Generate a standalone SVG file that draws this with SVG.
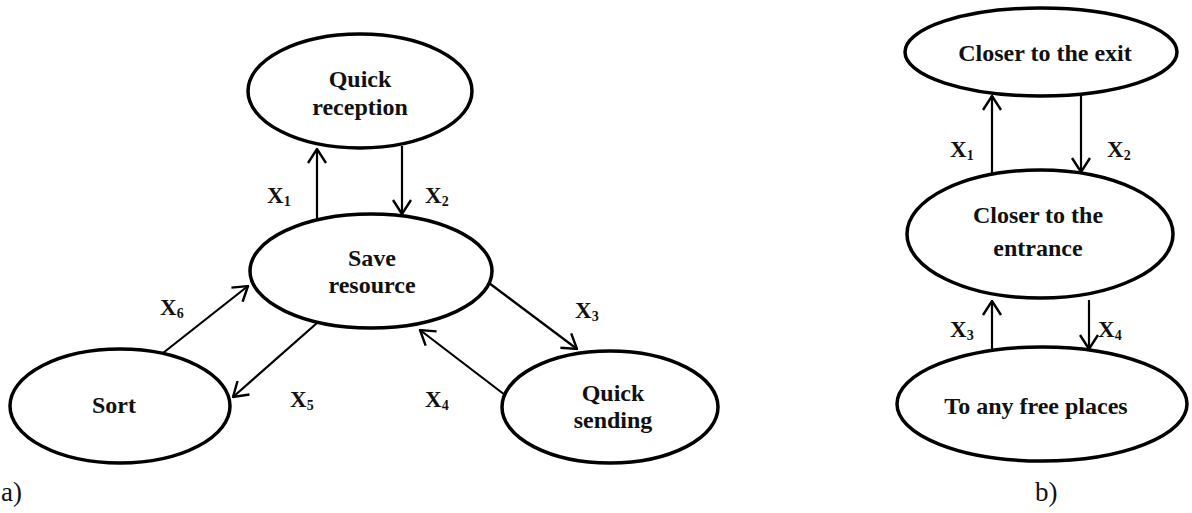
<svg xmlns="http://www.w3.org/2000/svg" width="1192" height="513" viewBox="0 0 1192 513">
  <style>
    .node { fill: #fff; stroke: #000; stroke-width: 3.5; }
    .lbl { font-family: "Liberation Serif", "Times New Roman", serif; font-weight: bold; font-size: 24px; fill: #111; text-anchor: middle; }
    .x { font-family: "Liberation Serif", "Times New Roman", serif; font-weight: bold; font-size: 23px; fill: #111; }
    .sub { font-size: 14px; }
    .edge { stroke: #000; stroke-width: 2.2; fill: none; marker-end: url(#arrow); }
    .cap { font-family: "Liberation Serif", "Times New Roman", serif; font-size: 27px; fill: #111; }
  </style>
  <defs>
    <marker id="arrow" markerUnits="userSpaceOnUse" viewBox="0 0 16 20" refX="15" refY="10" markerWidth="16" markerHeight="20" orient="auto">
      <path d="M1,1 L15,10 L1,19" fill="none" stroke="#000" stroke-width="2.4"/>
    </marker>
  </defs>
  <rect width="1192" height="513" fill="#fff"/>

  <!-- (a) resource-saving states -->
  <g id="quick-reception">
    <ellipse class="node" cx="360" cy="91" rx="112" ry="57"/>
    <text class="lbl" x="360" y="87">Quick</text>
    <text class="lbl" x="360" y="115">reception</text>
  </g>
  <g id="save-resource">
    <ellipse class="node" cx="371" cy="271" rx="121" ry="57"/>
    <text class="lbl" x="372" y="266">Save</text>
    <text class="lbl" x="372" y="293">resource</text>
  </g>
  <g id="sort">
    <ellipse class="node" cx="120" cy="406" rx="110" ry="57"/>
    <text class="lbl" x="114" y="413">Sort</text>
  </g>
  <g id="quick-sending">
    <ellipse class="node" cx="610" cy="407" rx="108" ry="56"/>
    <text class="lbl" x="613" y="401">Quick</text>
    <text class="lbl" x="613" y="428">sending</text>
  </g>

  <!-- (b) placement states -->
  <g id="closer-exit">
    <ellipse class="node" cx="1041" cy="52" rx="136" ry="44"/>
    <text class="lbl" x="1045" y="61">Closer to the exit</text>
  </g>
  <g id="closer-entrance">
    <ellipse class="node" cx="1040" cy="234" rx="133" ry="64"/>
    <text class="lbl" x="1038" y="223">Closer to the</text>
    <text class="lbl" x="1038" y="256">entrance</text>
  </g>
  <g id="any-free">
    <ellipse class="node" cx="1042" cy="404" rx="145" ry="57"/>
    <text class="lbl" x="1036" y="414">To any free places</text>
  </g>

  <g id="connectors">
    <!-- (a) -->
    <line class="edge" x1="317" y1="220" x2="317" y2="149"/>
    <line class="edge" x1="402" y1="146" x2="402" y2="214"/>
    <line class="edge" x1="163" y1="353" x2="248" y2="286"/>
    <line class="edge" x1="317" y1="323" x2="233" y2="397"/>
    <line class="edge" x1="489" y1="283" x2="577" y2="349"/>
    <line class="edge" x1="505" y1="395" x2="420" y2="330"/>
    <!-- (b) -->
    <line class="edge" x1="992" y1="174" x2="992" y2="96"/>
    <line class="edge" x1="1081" y1="94" x2="1081" y2="172"/>
    <line class="edge" x1="992" y1="350" x2="992" y2="301"/>
    <line class="edge" x1="1089" y1="300" x2="1089" y2="349"/>
  </g>

  <g id="edge-labels">
    <text class="x" x="267" y="203">X<tspan class="sub" dy="3">1</tspan></text>
    <text class="x" x="425" y="203">X<tspan class="sub" dy="3">2</tspan></text>
    <text class="x" x="575" y="318">X<tspan class="sub" dy="3">3</tspan></text>
    <text class="x" x="425" y="407">X<tspan class="sub" dy="3">4</tspan></text>
    <text class="x" x="290" y="407">X<tspan class="sub" dy="3">5</tspan></text>
    <text class="x" x="160" y="315">X<tspan class="sub" dy="3">6</tspan></text>
    <text class="x" x="950" y="157">X<tspan class="sub" dy="3">1</tspan></text>
    <text class="x" x="1107" y="157">X<tspan class="sub" dy="3">2</tspan></text>
    <text class="x" x="950" y="337">X<tspan class="sub" dy="3">3</tspan></text>
    <text class="x" x="1098" y="337">X<tspan class="sub" dy="3">4</tspan></text>
  </g>

  <text class="cap" x="1" y="501">a)</text>
  <text class="cap" x="1035" y="501">b)</text>
</svg>
